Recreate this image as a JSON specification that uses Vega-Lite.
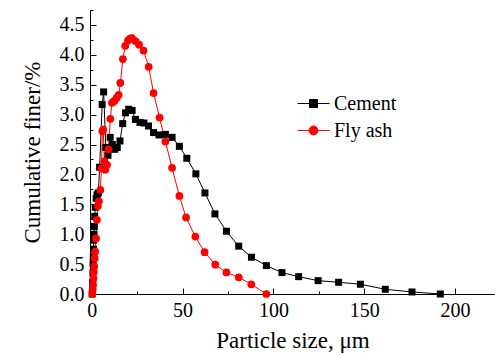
{
  "$schema": "https://vega.github.io/schema/vega-lite/v6.json",
  "width": 405,
  "height": 284,
  "autosize": {"type": "none"},
  "padding": {"left": 90, "top": 10, "right": 0, "bottom": 62},
  "background": "white",
  "config": {
    "view": {"stroke": null},
    "font": "Liberation Serif, Times New Roman, serif",
    "axis": {"labelFont": "Liberation Serif, Times New Roman, serif", "titleFont": "Liberation Serif, Times New Roman, serif", "labelFontSize": 20, "titleFontSize": 23, "titleFontWeight": "normal", "labelColor": "black", "titleColor": "black"},
    "legend": {"labelFont": "Liberation Serif, Times New Roman, serif", "labelFontSize": 20, "labelColor": "black"}
  },
  "data": {"values": [
    {"m": "Cement", "x": 0.2, "y": 0.0},
    {"m": "Cement", "x": 0.4, "y": 0.08},
    {"m": "Cement", "x": 0.5, "y": 0.2},
    {"m": "Cement", "x": 0.6, "y": 0.35},
    {"m": "Cement", "x": 0.7, "y": 0.5},
    {"m": "Cement", "x": 0.8, "y": 0.62},
    {"m": "Cement", "x": 0.9, "y": 0.75},
    {"m": "Cement", "x": 1.0, "y": 0.9},
    {"m": "Cement", "x": 1.2, "y": 1.0},
    {"m": "Cement", "x": 1.4, "y": 1.13},
    {"m": "Cement", "x": 1.6, "y": 1.3},
    {"m": "Cement", "x": 1.9, "y": 1.45},
    {"m": "Cement", "x": 2.4, "y": 1.6},
    {"m": "Cement", "x": 2.9, "y": 1.66},
    {"m": "Cement", "x": 3.6, "y": 1.69},
    {"m": "Cement", "x": 4.3, "y": 2.12},
    {"m": "Cement", "x": 5.7, "y": 3.17},
    {"m": "Cement", "x": 6.5, "y": 3.38},
    {"m": "Cement", "x": 7.7, "y": 2.45},
    {"m": "Cement", "x": 8.9, "y": 2.32},
    {"m": "Cement", "x": 10.1, "y": 2.62},
    {"m": "Cement", "x": 11.3, "y": 2.5},
    {"m": "Cement", "x": 12.6, "y": 2.42},
    {"m": "Cement", "x": 14.0, "y": 2.45},
    {"m": "Cement", "x": 15.5, "y": 2.56},
    {"m": "Cement", "x": 17.0, "y": 2.85},
    {"m": "Cement", "x": 18.6, "y": 3.03},
    {"m": "Cement", "x": 20.3, "y": 3.09},
    {"m": "Cement", "x": 22.2, "y": 3.07},
    {"m": "Cement", "x": 24.0, "y": 2.92},
    {"m": "Cement", "x": 26.5, "y": 2.87},
    {"m": "Cement", "x": 28.7, "y": 2.86},
    {"m": "Cement", "x": 31.2, "y": 2.81},
    {"m": "Cement", "x": 34.0, "y": 2.7},
    {"m": "Cement", "x": 37.0, "y": 2.66},
    {"m": "Cement", "x": 40.5, "y": 2.67},
    {"m": "Cement", "x": 44.2, "y": 2.62},
    {"m": "Cement", "x": 48.2, "y": 2.47},
    {"m": "Cement", "x": 52.3, "y": 2.27},
    {"m": "Cement", "x": 57.3, "y": 2.01},
    {"m": "Cement", "x": 62.3, "y": 1.69},
    {"m": "Cement", "x": 67.8, "y": 1.34},
    {"m": "Cement", "x": 74.1, "y": 1.05},
    {"m": "Cement", "x": 80.9, "y": 0.8},
    {"m": "Cement", "x": 87.9, "y": 0.615},
    {"m": "Cement", "x": 96.1, "y": 0.475},
    {"m": "Cement", "x": 104.7, "y": 0.358},
    {"m": "Cement", "x": 113.9, "y": 0.29},
    {"m": "Cement", "x": 124.6, "y": 0.223},
    {"m": "Cement", "x": 135.9, "y": 0.196},
    {"m": "Cement", "x": 147.9, "y": 0.163},
    {"m": "Cement", "x": 161.6, "y": 0.079},
    {"m": "Cement", "x": 176.3, "y": 0.034},
    {"m": "Cement", "x": 191.9, "y": 0.0},
    {"m": "Fly ash", "x": 0.3, "y": 0.0},
    {"m": "Fly ash", "x": 0.5, "y": 0.08},
    {"m": "Fly ash", "x": 0.7, "y": 0.15},
    {"m": "Fly ash", "x": 0.9, "y": 0.26},
    {"m": "Fly ash", "x": 1.1, "y": 0.37},
    {"m": "Fly ash", "x": 1.3, "y": 0.46},
    {"m": "Fly ash", "x": 1.6, "y": 0.6},
    {"m": "Fly ash", "x": 1.9, "y": 0.71},
    {"m": "Fly ash", "x": 2.3, "y": 0.93},
    {"m": "Fly ash", "x": 2.8, "y": 1.24},
    {"m": "Fly ash", "x": 3.3, "y": 1.47},
    {"m": "Fly ash", "x": 3.9, "y": 1.55},
    {"m": "Fly ash", "x": 4.7, "y": 1.74},
    {"m": "Fly ash", "x": 5.3, "y": 2.1},
    {"m": "Fly ash", "x": 5.8, "y": 2.72},
    {"m": "Fly ash", "x": 6.3, "y": 2.75},
    {"m": "Fly ash", "x": 6.9, "y": 2.22},
    {"m": "Fly ash", "x": 7.4, "y": 2.08},
    {"m": "Fly ash", "x": 8.4, "y": 2.16},
    {"m": "Fly ash", "x": 9.2, "y": 2.42},
    {"m": "Fly ash", "x": 10.2, "y": 2.93},
    {"m": "Fly ash", "x": 11.1, "y": 3.2},
    {"m": "Fly ash", "x": 12.4, "y": 3.23},
    {"m": "Fly ash", "x": 13.6, "y": 3.28},
    {"m": "Fly ash", "x": 14.8, "y": 3.33},
    {"m": "Fly ash", "x": 15.7, "y": 3.53},
    {"m": "Fly ash", "x": 17.1, "y": 3.93},
    {"m": "Fly ash", "x": 18.4, "y": 4.15},
    {"m": "Fly ash", "x": 19.9, "y": 4.24},
    {"m": "Fly ash", "x": 21.0, "y": 4.27},
    {"m": "Fly ash", "x": 22.1, "y": 4.28},
    {"m": "Fly ash", "x": 24.0, "y": 4.23},
    {"m": "Fly ash", "x": 26.0, "y": 4.17},
    {"m": "Fly ash", "x": 28.5, "y": 4.07},
    {"m": "Fly ash", "x": 31.3, "y": 3.8},
    {"m": "Fly ash", "x": 34.0, "y": 3.36},
    {"m": "Fly ash", "x": 37.3, "y": 2.95},
    {"m": "Fly ash", "x": 40.5, "y": 2.55},
    {"m": "Fly ash", "x": 44.2, "y": 2.11},
    {"m": "Fly ash", "x": 48.2, "y": 1.64},
    {"m": "Fly ash", "x": 51.9, "y": 1.28},
    {"m": "Fly ash", "x": 57.0, "y": 0.96},
    {"m": "Fly ash", "x": 62.1, "y": 0.7},
    {"m": "Fly ash", "x": 68.0, "y": 0.49},
    {"m": "Fly ash", "x": 74.1, "y": 0.36},
    {"m": "Fly ash", "x": 80.9, "y": 0.28},
    {"m": "Fly ash", "x": 87.8, "y": 0.163},
    {"m": "Fly ash", "x": 96.1, "y": 0.0}
  ]},
  "resolve": {"axis": {"x": "independent", "y": "independent"}},
  "layer": [
    {
      "mark": {"type": "line", "strokeWidth": 1, "clip": false},
      "encoding": {
        "x": {"field": "x", "type": "quantitative", "scale": {"domain": [-1, 222], "nice": false, "zero": false},
          "axis": {"orient": "bottom", "values": [0, 50, 100, 150, 200], "title": "Particle size, μm", "grid": false,
            "domainColor": "black", "tickColor": "black", "tickSize": -6, "labelPadding": 12, "titlePadding": 9}},
        "y": {"field": "y", "type": "quantitative", "scale": {"domain": [0, 4.75], "nice": false},
          "axis": {"orient": "left", "values": [0, 0.5, 1, 1.5, 2, 2.5, 3, 3.5, 4, 4.5], "format": ".1f", "title": "Cumulative finer/%", "grid": false,
            "domainColor": "black", "tickColor": "black", "tickSize": -6, "labelPadding": 12, "titlePadding": 15}},
        "color": {"field": "m", "type": "nominal", "scale": {"domain": ["Cement", "Fly ash"], "range": ["black", "red"]},
          "legend": {"title": null, "orient": "none", "legendX": 207, "legendY": 77, "labelOffset": 4,
            "symbolSize": 1024, "rowPadding": -7,
            "encode": {"symbols": {"update": {
              "shape": {"signal": "datum.value === 'Cement' ? 'M-1,0H1M-0.25,-0.25H0.25V0.25H-0.25Z' : 'M-1,0H1M0.28,0A0.28,0.28 0 1,1 -0.28,0A0.28,0.28 0 1,1 0.28,0Z'"},
              "fill": {"signal": "datum.value === 'Cement' ? 'black' : 'red'"},
              "stroke": {"signal": "datum.value === 'Cement' ? 'black' : 'red'"},
              "strokeWidth": {"value": 1},
              "opacity": {"value": 1}}}}}}
      }
    },
    {
      "transform": [{"filter": "datum.m === 'Cement'"}],
      "mark": {"type": "square", "opacity": 1, "size": 49, "clip": false},
      "encoding": {
        "x": {"field": "x", "type": "quantitative",
          "axis": {"orient": "bottom", "values": [25, 75, 125, 175, 225], "labels": false, "domain": false, "title": null, "grid": false, "tickColor": "black", "tickSize": -3}},
        "y": {"field": "y", "type": "quantitative",
          "axis": {"orient": "left", "values": [0.25, 0.75, 1.25, 1.75, 2.25, 2.75, 3.25, 3.75, 4.25, 4.75], "labels": false, "domain": false, "title": null, "grid": false, "tickColor": "black", "tickSize": -3}},
        "color": {"field": "m", "type": "nominal"}
      }
    },
    {
      "transform": [{"filter": "datum.m === 'Fly ash'"}],
      "mark": {"type": "circle", "opacity": 1, "size": 60, "clip": false},
      "encoding": {
        "x": {"field": "x", "type": "quantitative", "axis": null},
        "y": {"field": "y", "type": "quantitative", "axis": null},
        "color": {"field": "m", "type": "nominal"}
      }
    }
  ]
}
